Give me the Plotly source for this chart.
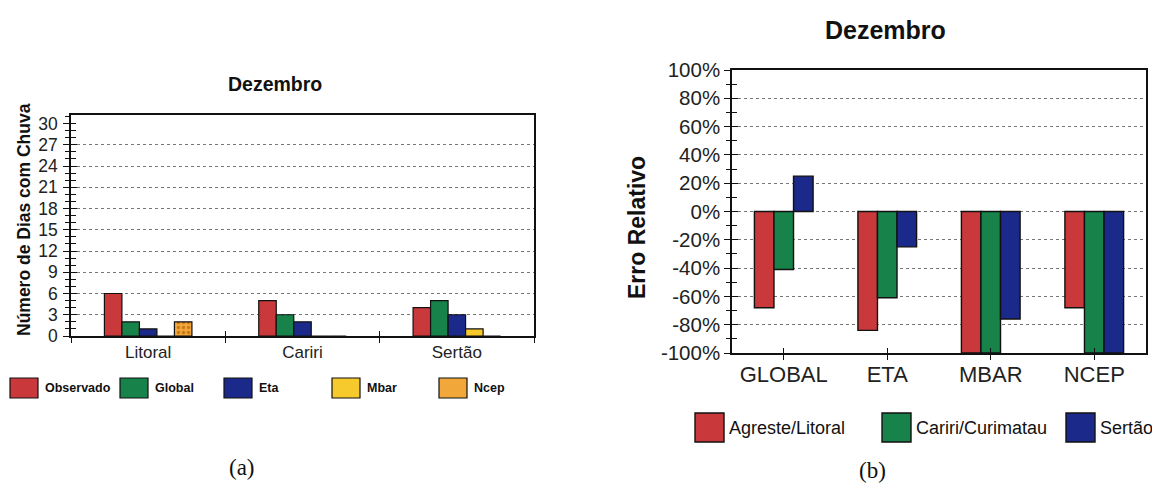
import plotly.graph_objects as go

# ---------------- data: chart (a) ----------------
regions = ["Litoral", "Cariri", "Sertão"]
series_a = ["Observado", "Global", "Eta", "Mbar", "Ncep"]
observado = [6, 5, 4]
global_model = [2, 3, 5]
eta_model = [1, 2, 3]
mbar_model = [0, 0, 1]
ncep_model = [2, 0, 0]
ticks_a = list(range(0, 31, 3))

# ---------------- data: chart (b) ----------------
models = ["GLOBAL", "ETA", "MBAR", "NCEP"]
series_b = ["Agreste/Litoral", "Cariri/Curimatau", "Sertão"]
agreste_litoral = [-68, -84, -100, -68]
cariri_curimatau = [-41, -61, -100, -100]
sertao = [25, -25, -76, -100]
ticks_b = list(range(-100, 101, 20))
ticktext_b = [f"{v}%" for v in ticks_b]

# ---------------- styles ----------------
RED, GREEN, BLUE, YELLOW, ORANGE = "#C9393C", "#17824A", "#1B2A8A", "#F6C92C", "#F2A73A"
colors_a = [RED, GREEN, BLUE, YELLOW, ORANGE]
colors_b = [RED, GREEN, BLUE]
INK = "#111111"
FONT = "Liberation Sans, Arial, sans-serif"
PAGE_OFFSET = 8          # default body margin of the html page
W, H = 1160 - PAGE_OFFSET, 491 - PAGE_OFFSET


def px(x):
    return (x - PAGE_OFFSET) / W


def py(y):
    return 1 - (y - PAGE_OFFSET) / H


fig = go.Figure()

values_a = [observado, global_model, eta_model, mbar_model, ncep_model]
for name, vals, col in zip(series_a, values_a, colors_a):
    marker = dict(color=col, line=dict(color=INK, width=1.2))
    if name == "Ncep":
        marker["pattern"] = dict(shape=".", fgcolor="#C9781A", bgcolor=col,
                                 size=5, solidity=0.35, fillmode="replace")
    fig.add_trace(go.Bar(x=regions, y=vals, name=name, marker=marker,
                         xaxis="x", yaxis="y", showlegend=False))

values_b = [agreste_litoral, cariri_curimatau, sertao]
for name, vals, col in zip(series_b, values_b, colors_b):
    fig.add_trace(go.Bar(x=models, y=vals, name=name,
                         marker=dict(color=col, line=dict(color=INK, width=1.4)),
                         xaxis="x2", yaxis="y2", showlegend=False))

# empty helper traces so the overlay axes (gridlines / inner tick marks) are drawn
fig.add_trace(go.Scatter(x=[], y=[], xaxis="x3", yaxis="y3", showlegend=False, hoverinfo="skip"))
fig.add_trace(go.Scatter(x=[], y=[], xaxis="x4", yaxis="y4", showlegend=False, hoverinfo="skip"))

axis_line = dict(showline=True, linecolor=INK, linewidth=1.5, mirror=True,
                 zeroline=False, tickcolor=INK, tickwidth=1.3, automargin=False)

# left chart domains
LX = [px(71), px(534)]
LY = [py(336), py(115)]
# right chart domains
RX = [px(732), px(1146)]
RY = [py(353), py(70)]

minor_in_a = [v for v in range(1, 31) if v % 3 != 0] + [30]
minor_in_b = [v for v in range(-90, 100, 20)] + [100]

fig.update_layout(
    template="none",
    width=W, height=H, autosize=False,
    margin=dict(l=0, r=0, t=0, b=0, pad=0, autoexpand=False),
    paper_bgcolor="white", plot_bgcolor="white",
    barmode="group", bargap=0.433, bargroupgap=0,
    font=dict(family=FONT, color=INK),
    xaxis=dict(domain=LX, anchor="y", type="category", range=[-0.5, 2.5],
               ticks="outside", ticklen=5, tickson="boundaries",
               showgrid=False, tickfont=dict(size=17, color="#222"), **axis_line),
    yaxis=dict(domain=LY, anchor="x", range=[0, 31.2], tickmode="array",
               tickvals=ticks_a, ticks="outside", ticklen=6, showgrid=False,
               ticklabelstandoff=2,
               minor=dict(dtick=1, ticks="outside", ticklen=4, tickcolor=INK, showgrid=False),
               tickfont=dict(size=17.5, color="#222"), **axis_line),
    xaxis3=dict(overlaying="x", anchor="y3", range=[-0.5, 2.5], tickmode="array",
                tickvals=[0.5, 1.5], ticks="inside", ticklen=5, tickcolor=INK, tickwidth=1.3,
                showticklabels=False, showgrid=False, showline=False, zeroline=False,
                automargin=False),
    yaxis3=dict(overlaying="y", anchor="x3", range=[0, 31.2], tickmode="array",
                tickvals=ticks_a[1:-1], ticks="inside", ticklen=6, tickcolor=INK, tickwidth=1.3,
                showticklabels=False, showgrid=True, gridcolor="#777", gridwidth=1,
                griddash="dot", showline=False, zeroline=False, automargin=False,
                minor=dict(tickmode="array", tickvals=minor_in_a, ticks="inside",
                           ticklen=5, tickcolor=INK, showgrid=False)),
    xaxis2=dict(domain=RX, anchor="y2", type="category", range=[-0.5, 3.5],
                ticks="outside", ticklen=5, showgrid=False, ticklabelstandoff=-4,
                tickfont=dict(size=22, color="#222"), **axis_line),
    yaxis2=dict(domain=RY, anchor="x2", range=[-100, 100], tickmode="array",
                tickvals=ticks_b, ticktext=ticktext_b, ticks="outside", ticklen=6,
                showgrid=False, ticklabelstandoff=0,
                minor=dict(dtick=10, ticks="outside", ticklen=4, tickcolor=INK, showgrid=False),
                tickfont=dict(size=20.5, color="#222"), **axis_line),
    xaxis4=dict(overlaying="x2", anchor="y4", range=[-0.5, 3.5], tickmode="array",
                tickvals=[0, 1, 2, 3], ticks="inside", ticklen=5, tickcolor=INK, tickwidth=1.3,
                showticklabels=False, showgrid=False, showline=False, zeroline=False,
                automargin=False),
    yaxis4=dict(overlaying="y2", anchor="x4", range=[-100, 100], tickmode="array",
                tickvals=ticks_b[1:-1], ticks="inside", ticklen=6, tickcolor=INK, tickwidth=1.3,
                showticklabels=False, showgrid=True, gridcolor="#777", gridwidth=1,
                griddash="dot", showline=False, zeroline=False, automargin=False,
                minor=dict(tickmode="array", tickvals=minor_in_b, ticks="inside",
                           ticklen=5, tickcolor=INK, showgrid=False)),
)

annotations = [
    dict(text="<b>Dezembro</b>", x=px(275), y=py(84), font=dict(size=19.5)),
    dict(text="<b>Dezembro</b>", x=px(885), y=py(30), font=dict(size=25)),
    dict(text="<b>Número de Dias com Chuva</b>", x=px(24), y=py(220), textangle=-90,
         font=dict(size=17.5)),
    dict(text="<b>Erro Relativo</b>", x=px(637), y=py(228), textangle=-90,
         font=dict(size=23)),
    dict(text="(a)", x=px(242), y=py(467), font=dict(size=23, family="Liberation Serif, Times New Roman, serif")),
    dict(text="(b)", x=px(872), y=py(470), font=dict(size=23, family="Liberation Serif, Times New Roman, serif")),
]
for a in annotations:
    a.update(xref="paper", yref="paper", showarrow=False, xanchor="center", yanchor="middle")

shapes = []
# legend (a)
leg_a_x = [10, 120, 224, 332, 439]
for name, col, x0 in zip(series_a, colors_a, leg_a_x):
    shapes.append(dict(type="rect", xref="paper", yref="paper",
                       x0=px(x0), x1=px(x0 + 28), y0=py(398), y1=py(378),
                       fillcolor=col, line=dict(color=INK, width=1.2)))
    annotations.append(dict(text=f"<b>{name}</b>", x=px(x0 + 33), y=py(388), xref="paper",
                            yref="paper", showarrow=False, xanchor="left", yanchor="middle",
                            font=dict(size=12.5)))
# legend (b)
leg_b_x = [695, 882, 1066]
for name, col, x0 in zip(series_b, colors_b, leg_b_x):
    shapes.append(dict(type="rect", xref="paper", yref="paper",
                       x0=px(x0), x1=px(x0 + 29), y0=py(442), y1=py(413),
                       fillcolor=col, line=dict(color=INK, width=1.4)))
    annotations.append(dict(text=name, x=px(x0 + 33), y=py(428), xref="paper",
                            yref="paper", showarrow=False, xanchor="left", yanchor="middle",
                            font=dict(size=18), borderpad=0))

fig.update_layout(annotations=annotations, shapes=shapes)
fig.write_html("out.html")
